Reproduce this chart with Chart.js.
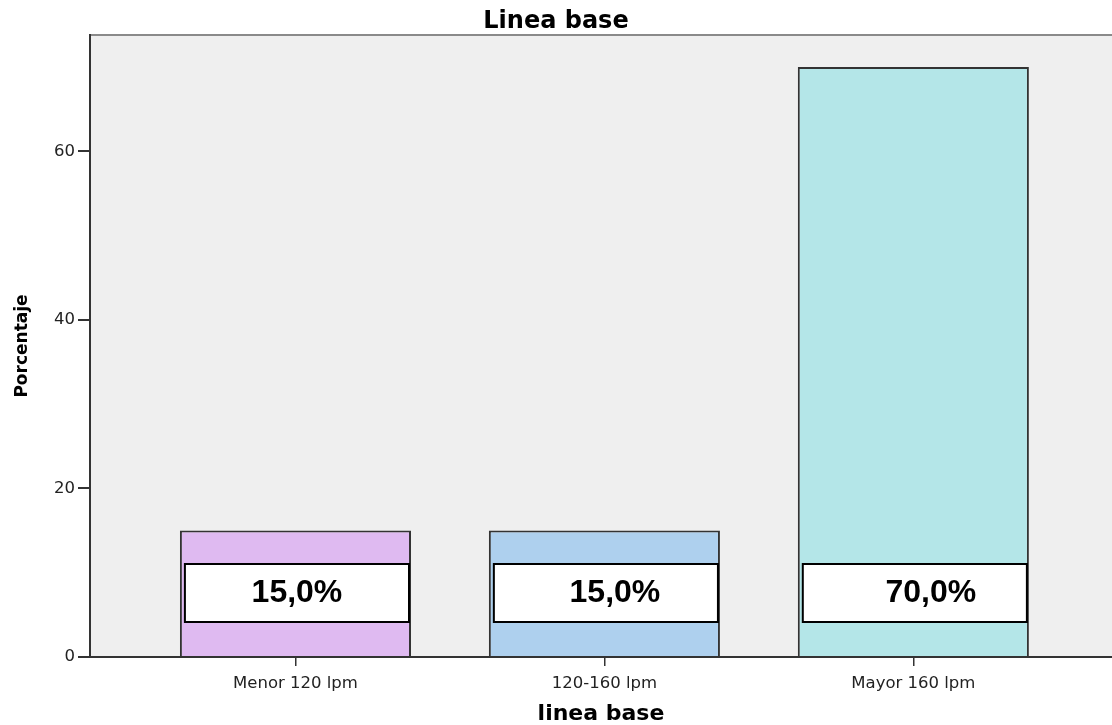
<!DOCTYPE html>
<html>
<head>
<meta charset="utf-8">
<script src="https://cdn.jsdelivr.net/npm/chart.js@4.4.1/dist/chart.umd.min.js"></script>
<style>
  html, body { margin: 0; padding: 0; background: #ffffff; }
  #wrap { width: 1112px; height: 725px; }
</style>
</head>
<body>
<div id="wrap"><canvas id="c" width="1112" height="725"></canvas></div>
<script>
// Categories, percentages and axis ticks
const categories = ['Menor 120 lpm', '120-160 lpm', 'Mayor 160 lpm'];
const percentages = [15.0, 15.0, 70.0];
const yTicks = [0, 20, 40, 60];
const barColors = ['#DFBAF1', '#AED0EE', '#B4E6E8'];

const FONT = '"DejaVu Sans", sans-serif';

// Plot background and top frame line
const frame = {
  id: 'frame',
  beforeDraw(chart) {
    const { ctx, chartArea: a } = chart;
    ctx.save();
    ctx.fillStyle = '#ffffff';
    ctx.fillRect(0, 0, chart.width, chart.height);
    ctx.fillStyle = '#EFEFEF';
    ctx.fillRect(a.left, a.top, a.right - a.left, a.bottom - a.top);
    ctx.strokeStyle = '#8a8a8a';
    ctx.lineWidth = 2;
    ctx.beginPath();
    ctx.moveTo(a.left, a.top);
    ctx.lineTo(a.right, a.top);
    ctx.stroke();
    ctx.restore();
  }
};

// Boxed percentage label inside each bar
const valueBoxes = {
  id: 'valueBoxes',
  afterDatasetsDraw(chart, args, opts) {
    const { ctx } = chart;
    const meta = chart.getDatasetMeta(0);
    const base = chart.scales.y.getPixelForValue(0);
    const shift = opts.textShift || [];
    ctx.save();
    meta.data.forEach((bar, i) => {
      const left = bar.x - bar.width / 2 + 5;
      const right = bar.x + bar.width / 2 - 2;
      const bottom = base - 35;
      const top = bottom - 58;
      ctx.fillStyle = '#ffffff';
      ctx.fillRect(left, top, right - left, bottom - top);
      ctx.strokeStyle = '#000000';
      ctx.lineWidth = 2;
      ctx.strokeRect(left, top, right - left, bottom - top);
      ctx.fillStyle = '#000000';
      ctx.font = 'bold 32px "Liberation Sans", Arial, sans-serif';
      ctx.textAlign = 'center';
      ctx.textBaseline = 'middle';
      const txt = percentages[i].toFixed(1).replace('.', ',') + '%';
      ctx.fillText(txt, (left + right) / 2 + (shift[i] || 0), (top + bottom) / 2);
    });
    ctx.restore();
  }
};

new Chart(document.getElementById('c'), {
  type: 'bar',
  data: {
    datasets: [{
      data: percentages.map((v, i) => ({ x: i, y: v })),
      backgroundColor: barColors,
      borderColor: '#333333',
      borderWidth: 2,
      borderSkipped: 'bottom',
      barPercentage: 0.748,
      categoryPercentage: 1
    }]
  },
  options: {
    responsive: false,
    animation: false,
    layout: { padding: 0 },
    plugins: {
      legend: { display: false },
      tooltip: { enabled: false },
      valueBoxes: { textShift: [0, 9, 16] },
      title: {
        display: true,
        text: 'Linea base',
        color: '#000000',
        font: { family: FONT, size: 24, weight: 'bold', lineHeight: 1 },
        padding: { top: 10, bottom: 1 }
      }
    },
    scales: {
      x: {
        type: 'linear',
        min: -0.665,
        max: 2.643,
        offset: false,
        afterFit(s) { s.height = 68; },
        afterBuildTicks(s) { s.ticks = categories.map((_, i) => ({ value: i })); },
        grid: { offset: false, drawOnChartArea: false, drawTicks: true, tickLength: 9, color: '#333333', lineWidth: 1.5 },
        border: { display: true, color: '#333333', width: 2 },
        ticks: {
          autoSkip: false,
          maxRotation: 0,
          padding: 8,
          color: '#222222',
          font: { family: FONT, size: 16.5 },
          callback: (v) => categories[v]
        },
        title: {
          display: true,
          text: 'linea base',
          color: '#000000',
          font: { family: FONT, size: 22, weight: 'bold', lineHeight: 1 },
          padding: { top: 0, bottom: 0 }
        }
      },
      y: {
        min: 0,
        max: 73.8,
        afterFit(s) { s.width = 90; },
        afterBuildTicks(s) { s.ticks = yTicks.map(v => ({ value: v })); },
        grid: { drawOnChartArea: false, drawTicks: true, tickLength: 12, color: '#333333', lineWidth: 2 },
        border: { display: true, color: '#333333', width: 2 },
        ticks: {
          padding: 3,
          color: '#222222',
          font: { family: FONT, size: 16.5 }
        },
        title: {
          display: true,
          text: 'Porcentaje',
          color: '#000000',
          font: { family: FONT, size: 17, weight: 'bold' },
          padding: { top: 12, bottom: 0 }
        }
      }
    }
  },
  plugins: [frame, valueBoxes]
});
</script>
</body>
</html>
